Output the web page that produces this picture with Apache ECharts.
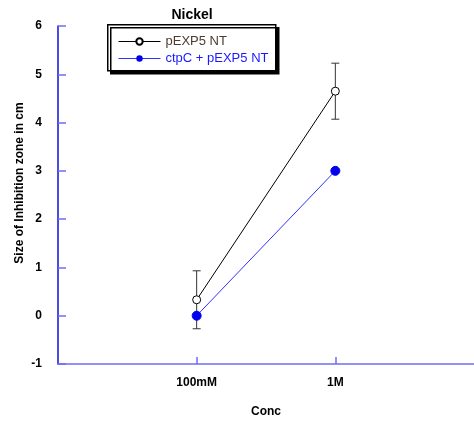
<!DOCTYPE html>
<html><head><meta charset="utf-8">
<script src="https://cdn.jsdelivr.net/npm/echarts@6/dist/echarts.min.js"></script>
<style>html,body{margin:0;padding:0;background:#fff}#c{width:474px;height:424px}</style>
</head><body><div id="c"></div>
<script>
var categories = ['', '100mM', '1M', ''];
var seriesNames = ['pEXP5 NT', 'ctpC + pEXP5 NT'];
var pexpValues = [null, 0.33, 4.65, null];
var pexpErrors = [null, 0.6, 0.58, null];
var ctpcValues = [null, 0, 3, null];
var yTicks = [-1, 0, 1, 2, 3, 4, 5, 6];

var errData = [];
for (var i = 0; i < categories.length; i++) {
  if (pexpValues[i] != null) errData.push([i, pexpValues[i] - pexpErrors[i], pexpValues[i] + pexpErrors[i]]);
}

var chart = echarts.init(document.getElementById('c'));
var font = 'Liberation Sans, Arial, sans-serif';
chart.setOption({
  animation: false,
  title: { text: 'Nickel', left: 187, top: 3, textAlign: 'center',
    textStyle: { fontFamily: font, fontWeight: 'bold', fontSize: 14, color: '#000' } },
  graphic: [{
    type: 'rect', left: 107, top: 24, z: 0,
    shape: { width: 168, height: 46 },
    style: { fill: '#fff', stroke: '#000', lineWidth: 1.5, shadowColor: '#000', shadowOffsetX: 3, shadowOffsetY: 3, shadowBlur: 0 }
  }],
  legend: {
    orient: 'vertical', left: 113, top: 30, itemGap: 4, itemWidth: 42, itemHeight: 8, z: 5,
    lineStyle: { width: 1 },
    textStyle: { fontFamily: font, fontSize: 13 },
    data: [
      { name: seriesNames[0], textStyle: { color: '#4a3c30' } },
      { name: seriesNames[1], textStyle: { color: '#1a1aff' } }
    ]
  },
  grid: { left: 58, right: 0, top: 26, bottom: 60 },
  xAxis: {
    type: 'category', data: categories, boundaryGap: false,
    name: 'Conc', nameLocation: 'middle', nameGap: 42,
    nameTextStyle: { fontFamily: font, fontWeight: 'bold', fontSize: 12, color: '#000' },
    axisLine: { onZero: false, lineStyle: { color: '#6e6ef5', width: 1.5 } },
    axisTick: { inside: true, length: 7, interval: function (idx, v) { return v !== ''; }, lineStyle: { color: '#6e6ef5', width: 1.5 } },
    axisLabel: { margin: 13, fontFamily: font, fontWeight: 'bold', fontSize: 12, color: '#000',
      interval: function (idx, v) { return v !== ''; } },
    splitLine: { show: false }
  },
  yAxis: {
    type: 'value', min: yTicks[0], max: yTicks[yTicks.length - 1], interval: 1,
    name: 'Size of Inhibition zone in cm', nameLocation: 'middle', nameGap: 32, nameMoveOverlap: false,
    nameTextStyle: { fontFamily: font, fontWeight: 'bold', fontSize: 12, color: '#000', padding: [0, 0, 0, 24] },
    axisLine: { show: true, lineStyle: { color: '#1010d8', width: 1.5 } },
    axisTick: { show: true, inside: true, length: 8, lineStyle: { color: '#6e6ef5', width: 1.5 } },
    axisLabel: { margin: 16, fontFamily: font, fontWeight: 'bold', fontSize: 12, color: '#000' },
    splitLine: { show: false }
  },
  series: [
    {
      name: seriesNames[0], type: 'line', data: pexpValues, connectNulls: false,
      symbol: 'circle', symbolSize: 8, showSymbol: true,
      lineStyle: { color: '#000', width: 1 },
      itemStyle: { color: '#fff', borderColor: '#000', borderWidth: 1 }, z: 3
    },
    {
      name: seriesNames[1], type: 'line', data: ctpcValues,
      symbol: 'circle', symbolSize: 9,
      lineStyle: { color: '#3030ff', width: 1 },
      itemStyle: { color: '#0000ee', borderColor: '#0000ee' }, z: 4
    },
    {
      type: 'custom', name: 'err', data: errData, z: 2,
      renderItem: function (params, api) {
        var x = api.value(0);
        var lo = api.coord([x, api.value(1)]);
        var hi = api.coord([x, api.value(2)]);
        var w = 4;
        var st = { stroke: '#333', lineWidth: 1 };
        return { type: 'group', children: [
          { type: 'line', shape: { x1: lo[0], y1: lo[1], x2: hi[0], y2: hi[1] }, style: st },
          { type: 'line', shape: { x1: lo[0] - w, y1: lo[1], x2: lo[0] + w, y2: lo[1] }, style: st },
          { type: 'line', shape: { x1: hi[0] - w, y1: hi[1], x2: hi[0] + w, y2: hi[1] }, style: st }
        ] };
      }
    }
  ]
});
</script></body></html>
